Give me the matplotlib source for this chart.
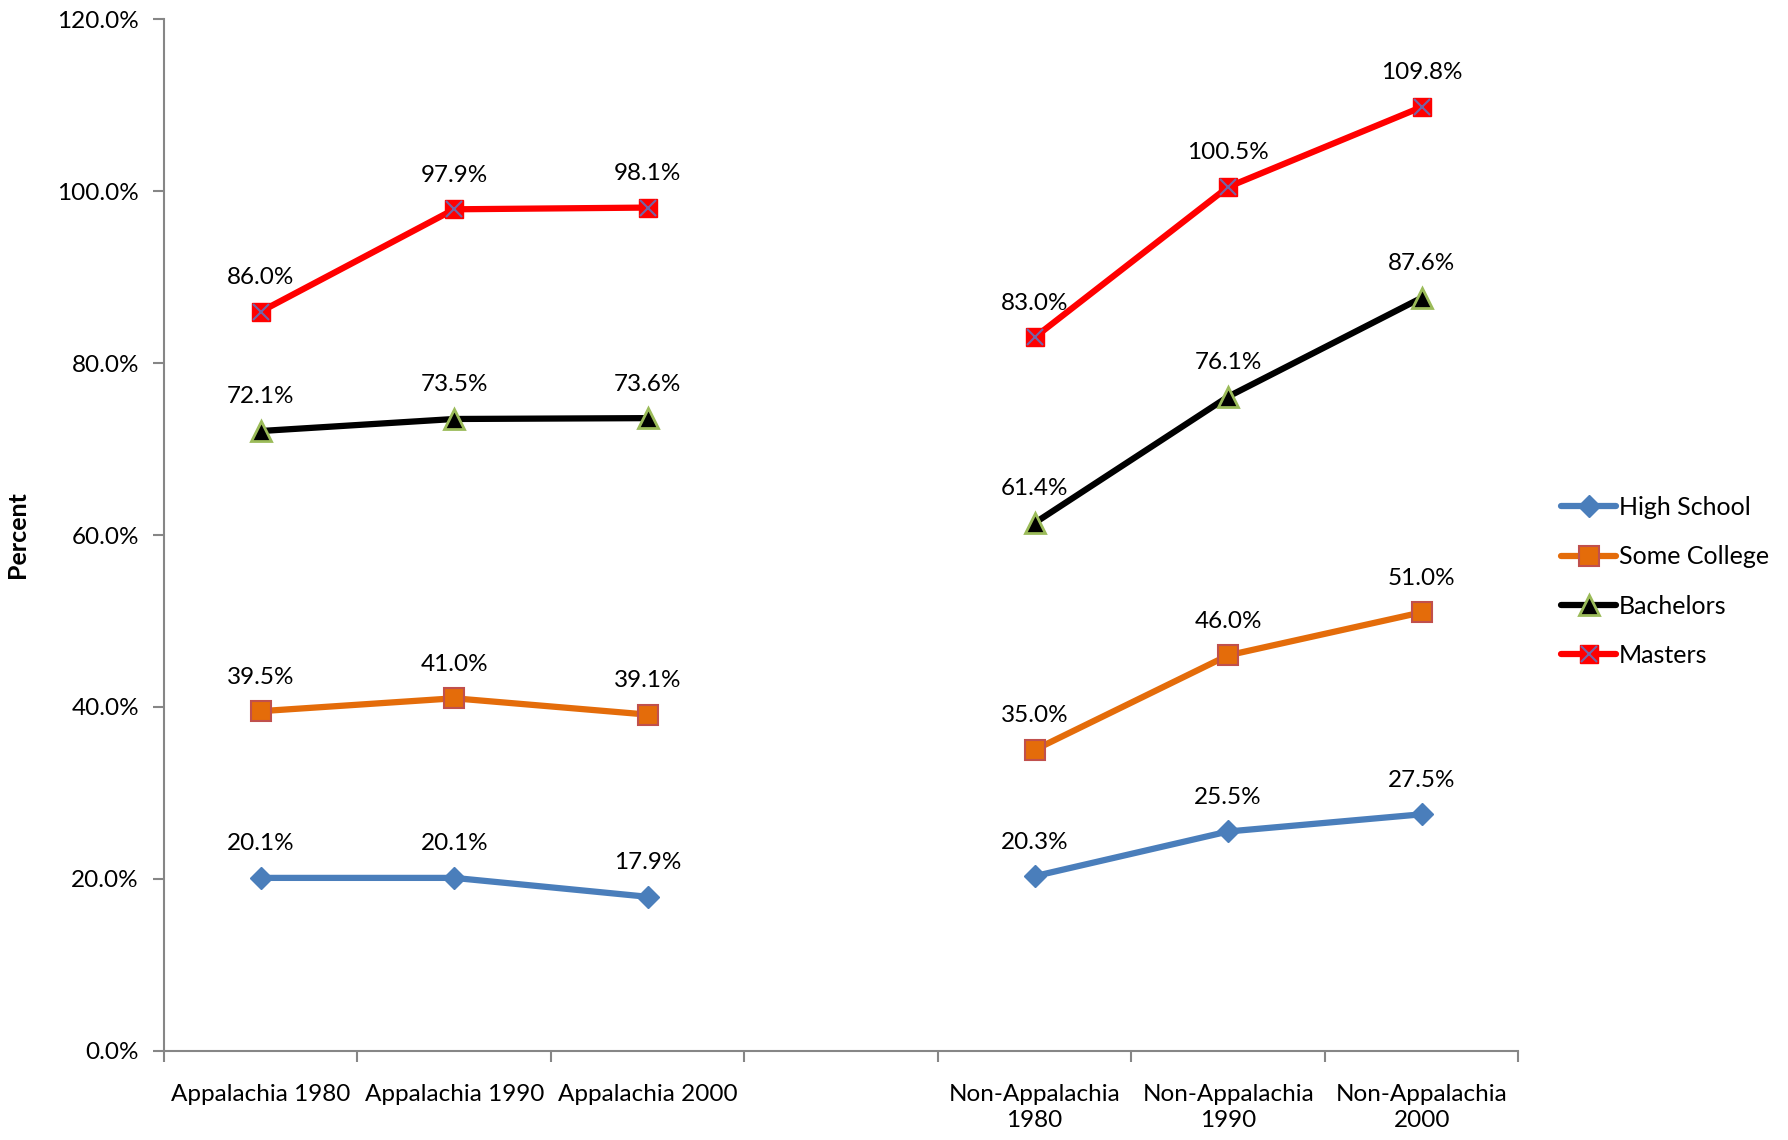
import matplotlib
matplotlib.use("Agg")
import matplotlib.pyplot as plt
from matplotlib.legend_handler import HandlerTuple
import matplotlib.ticker as mtick

plt.rcParams['font.family'] = ['Lato', 'DejaVu Sans']

# categories (blank slot separates the two regions)
categories = ["Appalachia 1980", "Appalachia 1990", "Appalachia 2000", "",
              "Non-Appalachia\n1980", "Non-Appalachia\n1990", "Non-Appalachia\n2000"]
app_idx = [0, 1, 2]
non_idx = [4, 5, 6]

# series values (percent), Appalachia then Non-Appalachia
high_school = [20.1, 20.1, 17.9, 20.3, 25.5, 27.5]
some_college = [39.5, 41.0, 39.1, 35.0, 46.0, 51.0]
bachelors = [72.1, 73.5, 73.6, 61.4, 76.1, 87.6]
masters = [86.0, 97.9, 98.1, 83.0, 100.5, 109.8]

yticks = [0, 20, 40, 60, 80, 100, 120]

fig = plt.figure(figsize=(17.88, 11.4), dpi=100)
ax = fig.add_axes([0.0917, 0.0784, 0.7575, 0.9046])

series = [
    ("High School", high_school, dict(color='#4A7EBB', marker='D', markersize=11,
                                      markerfacecolor='#4A7EBB', markeredgecolor='#4A7EBB')),
    ("Some College", some_college, dict(color='#E46C0A', marker='s', markersize=14,
                                        markerfacecolor='#E46C0A', markeredgecolor='#C0504D',
                                        markeredgewidth=1.5)),
    ("Bachelors", bachelors, dict(color='#000000', marker='^', markersize=14,
                                  markerfacecolor='#000000', markeredgecolor='#9BBB59',
                                  markeredgewidth=2)),
    ("Masters", masters, dict(color='#FF0000', marker='s', markersize=13,
                              markerfacecolor='#FF0000', markeredgecolor='#FF0000')),
]

handles = []
labels = []
for name, vals, style in series:
    h = None
    for idx, part in ((app_idx, vals[:3]), (non_idx, vals[3:])):
        ln, = ax.plot(idx, part, linewidth=4.5, solid_capstyle='round', zorder=3, **style)
        if h is None:
            h = ln
        for xi, v in zip(idx, part):
            ax.annotate(f"{v:.1f}%", (xi, v), xytext=(0, 17), textcoords='offset points',
                        ha='center', va='bottom', fontsize=17.5, color='#000000')
    if name == "Masters":
        xs = []
        for idx, part in ((app_idx, vals[:3]), (non_idx, vals[3:])):
            xl, = ax.plot(idx, part, linestyle='none', marker='x', markersize=12,
                          markeredgecolor='#7464A6', markeredgewidth=1.5, zorder=4)
            xs.append(xl)
        handles.append((h, xs[0]))
    else:
        handles.append(h)
    labels.append(name)

ax.set_xlim(-0.5, 6.5)
ax.set_ylim(0, 120)
ax.set_xticks(range(len(categories)))
ax.set_xticklabels(categories, fontsize=17.5, linespacing=1.3)
ax.set_xticks([i - 0.5 for i in range(len(categories) + 1)], minor=True)
ax.tick_params(axis='x', which='major', length=0, pad=24)
ax.tick_params(axis='x', which='minor', length=8, width=1.5, color='#868686')
ax.set_yticks(yticks)
ax.yaxis.set_major_formatter(mtick.FormatStrFormatter('%.1f%%'))
ax.tick_params(axis='y', length=8, width=1.5, color='#868686', labelsize=17.5, pad=10)
for s in ['top', 'right']:
    ax.spines[s].set_visible(False)
for s in ['left', 'bottom']:
    ax.spines[s].set_color('#868686')
    ax.spines[s].set_linewidth(1.5)

ax.set_ylabel("Percent", fontsize=18, fontweight='bold', labelpad=20)

ax.legend(handles, labels, handler_map={tuple: HandlerTuple(ndivide=1, pad=0)},
          loc='center left', bbox_to_anchor=(1.015, 0.455), frameon=False,
          fontsize=18, handlelength=2.2, labelspacing=1.05, handletextpad=0.1)

fig.savefig("out.png", dpi=100)
